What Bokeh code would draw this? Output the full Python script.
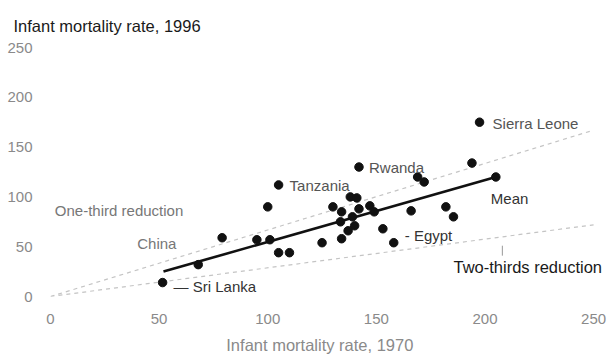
from bokeh.plotting import figure
from bokeh.models import Label, ColumnDataSource, Range1d, FixedTicker
from bokeh.embed import file_html
from bokeh.resources import INLINE

# Infant mortality per 1000 live births, 1970 (x) and 1996 (y)
imr_1970 = [51.6, 68, 79, 95, 101, 105, 110, 100, 105, 125, 130, 134, 138, 141, 142,
            147, 149, 133.5, 139, 140, 137, 134, 142, 153, 158, 166, 169, 172, 182,
            185.5, 194, 197.5, 205]
imr_1996 = [14, 32, 59, 57, 57, 44, 44, 90, 112, 54, 90, 85, 100, 99, 88,
            91, 85, 75, 80, 71, 66, 58, 130, 68, 54, 86, 120, 115, 90,
            80, 134, 175, 120]

# Fitted mean line
mean_x = [52, 205]
mean_y = [25, 120]

# Reduction reference lines
ref_x = [0, 250]
one_third_y = [0, 167]
two_thirds_y = [0, 72]

x_ticks = [0, 50, 100, 150, 200, 250]
y_ticks = [0, 50, 100, 150, 200, 250]

FONT = "Liberation Sans"

p = figure(width=612, height=356, output_backend="svg", toolbar_location=None,
           x_range=Range1d(0, 256.4), y_range=Range1d(0, 250),
           min_border_left=50, min_border_right=5, min_border_top=47, min_border_bottom=58)
p.outline_line_color = None
p.xgrid.visible = False
p.ygrid.visible = False

p.title.text = "Infant mortality rate, 1996"
p.title.text_font = FONT
p.title.text_font_size = "16.5px"
p.title.text_font_style = "normal"
p.title.text_color = "#1a1a1a"
p.title.align = "left"
p.title.vertical_align = "top"
p.title.offset = -37
p.title.standoff = 22

for ax in (p.xaxis[0], p.yaxis[0]):
    ax.axis_line_color = None
    ax.major_tick_line_color = None
    ax.minor_tick_line_color = None
    ax.major_label_text_font = FONT
    ax.major_label_text_font_size = "15px"
    ax.major_label_text_color = "#8a8a8a"

p.xaxis.ticker = FixedTicker(ticks=x_ticks)
p.yaxis.ticker = FixedTicker(ticks=y_ticks)
p.xaxis.major_label_standoff = 11
p.yaxis.major_label_standoff = 12
# trailing no-break spaces keep the label centred under the 0-250 span
p.xaxis.axis_label = "Infant mortality rate, 1970" + "\u00a0" * 4
p.xaxis.axis_label_text_font = FONT
p.xaxis.axis_label_text_font_size = "16.5px"
p.xaxis.axis_label_text_font_style = "normal"
p.xaxis.axis_label_text_color = "#8a8a8a"
p.xaxis.axis_label_standoff = 9

# Reference lines
p.line(ref_x, one_third_y, line_color="#c4c4c4", line_width=1.2, line_dash="4 4")
p.line(ref_x, two_thirds_y, line_color="#c4c4c4", line_width=1.2, line_dash="4 4")

# Mean line
p.line(mean_x, mean_y, line_color="#111111", line_width=2.6)

src = ColumnDataSource(dict(x=imr_1970, y=imr_1996))
p.scatter("x", "y", source=src, size=8.5, color="#111111")

# Leader for two-thirds label
p.segment(x0=[208], y0=[41], x1=[208], y1=[51], line_color="#999999", line_width=1)

def add_label(i, text, dx, dy, color):
    p.add_layout(Label(x=imr_1970[i], y=imr_1996[i], x_offset=dx, y_offset=dy, text=text,
                       text_font=FONT, text_font_size="15px", text_color=color,
                       text_baseline="middle", text_align="left"))

add_label(31, "Sierra Leone", 13, -1, "#555555")
add_label(22, "Rwanda", 10, 0, "#555555")
add_label(8, "Tanzania", 11, -1, "#555555")
add_label(24, "- Egypt", 11, 7, "#333333")
add_label(0, "\u2014 Sri Lanka", 11, -4, "#333333")
add_label(1, "China", -61, 21, "#777777")

p.add_layout(Label(x=mean_x[1], y=mean_y[1], x_offset=-5, y_offset=-22, text="Mean",
                   text_font=FONT, text_font_size="15px", text_color="#333333",
                   text_baseline="middle"))
p.add_layout(Label(x=2, y=86, text="One-third reduction",
                   text_font=FONT, text_font_size="15px", text_color="#777777",
                   text_baseline="middle"))
p.add_layout(Label(x=185.5, y=30, text="Two-thirds reduction",
                   text_font=FONT, text_font_size="16.5px", text_color="#1a1a1a",
                   text_baseline="middle"))

open("out.html", "w").write(file_html(p, INLINE))
